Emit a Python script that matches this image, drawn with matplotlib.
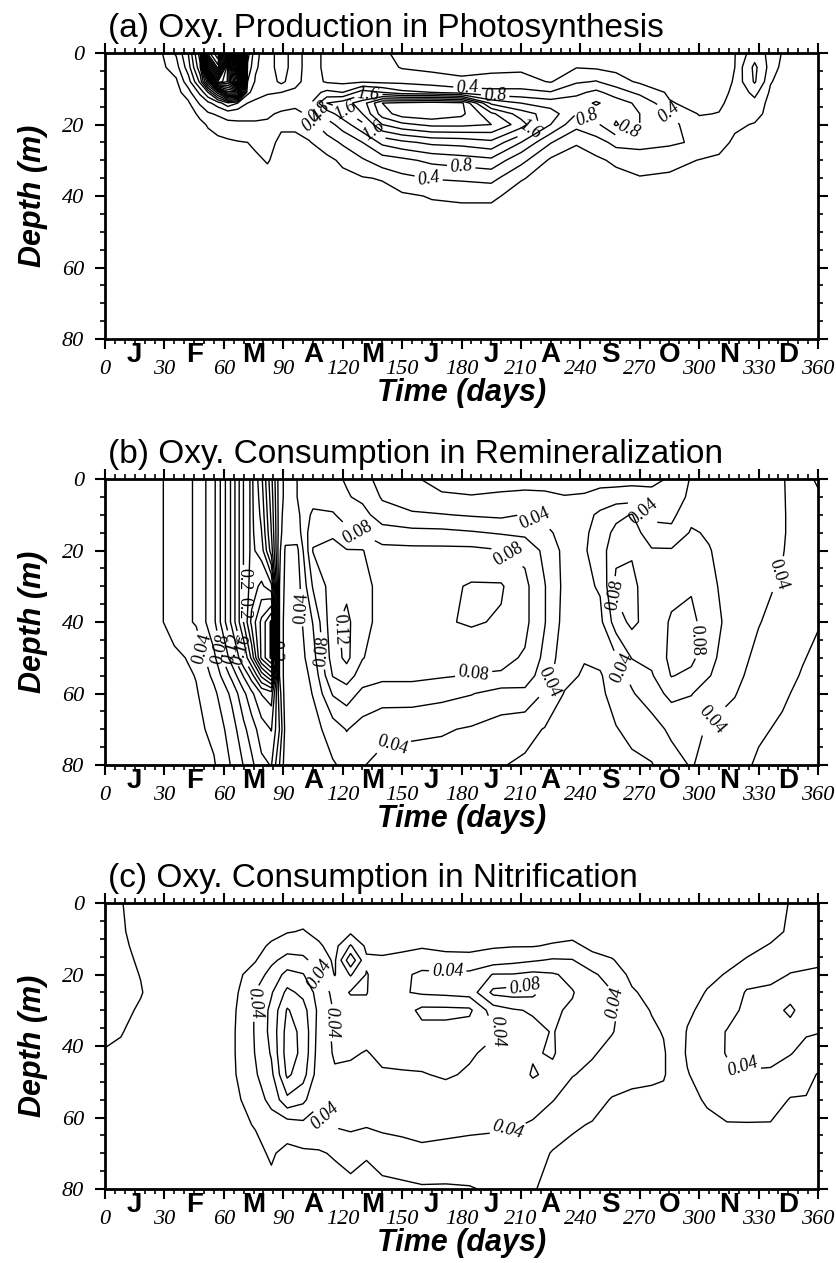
import numpy as np
import matplotlib
matplotlib.use('Agg')
import matplotlib.pyplot as plt
from matplotlib import font_manager
from matplotlib.ticker import MultipleLocator


def pick(*names):
    for n in names:
        try:
            font_manager.findfont(font_manager.FontProperties(family=n), fallback_to_default=False)
            return n
        except Exception:
            pass
    return 'DejaVu Sans'


narrow = pick('Liberation Sans Narrow', 'Liberation Sans')
serif = pick('Liberation Serif', 'DejaVu Serif')

plt.rcParams['font.family'] = serif
plt.rcParams['font.style'] = 'italic'

month_letters = ['J', 'F', 'M', 'A', 'M', 'J', 'J', 'A', 'S', 'O', 'N', 'D']
month_days = [15, 45, 75, 105, 135, 165, 195, 225, 255, 285, 315, 345]

# (a) oxygen production in photosynthesis, one column per day
photo_depths = [0, 4, 8, 11, 14, 17, 20, 25, 30, 35, 40, 45, 80]
photo_days = [0, 28, 36, 42, 48, 52, 57, 62, 67, 72, 76, 82, 89, 96, 103, 112, 120, 130, 140, 150,
              165, 180, 195, 210, 225, 238, 248, 258, 270, 285, 300, 310, 318, 328, 336, 342, 350, 360]
photo_cols = [
    [0, 0, 0, 0, 0, 0, 0, 0, 0, 0, 0, 0, 0],
    [0.05, 0.02, 0, 0, 0, 0, 0, 0, 0, 0, 0, 0, 0],
    [0.45, 0.25, 0.05, 0, 0, 0, 0, 0, 0, 0, 0, 0, 0],
    [1.2, 1.0, 0.6, 0.25, 0.05, 0, 0, 0, 0, 0, 0, 0, 0],
    [2.6, 2.3, 1.7, 0.9, 0.45, 0.15, 0.05, 0, 0, 0, 0, 0, 0],
    [11.0, 8.0, 3.5, 1.6, 0.7, 0.35, 0.12, 0.02, 0, 0, 0, 0, 0],
    [12.0, 11.0, 8.0, 3.0, 1.0, 0.45, 0.2, 0.04, 0, 0, 0, 0, 0],
    [7.0, 7.1, 7.15, 5.0, 1.5, 0.55, 0.3, 0.05, 0, 0, 0, 0, 0],
    [13.0, 12.0, 10.0, 5.0, 1.2, 0.5, 0.35, 0.08, 0, 0, 0, 0, 0],
    [2.2, 1.9, 1.6, 1.3, 0.8, 0.5, 0.35, 0.1, 0.02, 0, 0, 0, 0],
    [1.3, 1.25, 1.15, 1.0, 0.7, 0.5, 0.35, 0.15, 0.05, 0, 0, 0, 0],
    [1.0, 1.0, 0.95, 0.85, 0.6, 0.45, 0.35, 0.2, 0.12, 0.02, 0, 0, 0],
    [1.4, 1.4, 1.3, 0.8, 0.55, 0.35, 0.15, 0.03, 0, 0, 0, 0, 0],
    [1.0, 1.0, 0.95, 0.7, 0.5, 0.3, 0.15, 0.03, 0, 0, 0, 0, 0],
    [0.6, 0.6, 0.6, 0.6, 0.7, 0.45, 0.25, 0.08, 0, 0, 0, 0, 0],
    [0.3, 0.3, 0.35, 0.9, 1.6, 1.0, 0.6, 0.25, 0.03, 0, 0, 0, 0],
    [0.25, 0.25, 0.3, 0.8, 1.8, 1.4, 1.0, 0.45, 0.15, 0.03, 0, 0, 0],
    [0.25, 0.25, 0.35, 1.4, 2.2, 2.0, 1.5, 0.8, 0.35, 0.08, 0, 0, 0],
    [0.15, 0.2, 0.3, 1.2, 3.2, 3.0, 2.4, 1.3, 0.6, 0.12, 0, 0, 0],
    [0.02, 0.08, 0.3, 0.9, 3.3, 3.4, 2.7, 1.5, 0.7, 0.3, 0.05, 0, 0],
    [0, 0.05, 0.2, 0.8, 3.4, 3.5, 2.9, 1.7, 0.9, 0.42, 0.12, 0.02, 0],
    [0, 0.02, 0.15, 0.6, 3.3, 3.3, 2.9, 1.75, 1.0, 0.45, 0.15, 0.02, 0],
    [0, 0.03, 0.2, 0.5, 1.5, 2.5, 2.8, 1.9, 1.1, 0.5, 0.15, 0.02, 0],
    [0, 0.05, 0.2, 0.5, 1.2, 1.8, 2.2, 1.2, 0.5, 0.12, 0, 0, 0],
    [0, 0.02, 0.08, 0.42, 1.0, 1.4, 1.2, 0.42, 0.05, 0, 0, 0, 0],
    [0.02, 0.09, 0.35, 0.7, 1.0, 0.8, 0.5, 0.12, 0, 0, 0, 0, 0],
    [0, 0.06, 0.42, 0.9, 1.25, 1.0, 0.7, 0.25, 0.05, 0, 0, 0, 0],
    [0, 0.04, 0.2, 0.6, 1.0, 1.1, 1.25, 0.5, 0.15, 0.02, 0, 0, 0],
    [0, 0.02, 0.06, 0.3, 0.7, 0.8, 0.8, 0.5, 0.25, 0.08, 0, 0, 0],
    [0, 0, 0.03, 0.06, 0.12, 0.42, 0.5, 0.45, 0.2, 0.05, 0, 0, 0],
    [0, 0, 0, 0, 0.02, 0.08, 0.2, 0.35, 0.09, 0, 0, 0, 0],
    [0, 0, 0, 0.02, 0.05, 0.11, 0.2, 0.2, 0.05, 0, 0, 0, 0],
    [0.09, 0.1, 0.12, 0.15, 0.2, 0.2, 0.15, 0.05, 0, 0, 0, 0, 0],
    [0.6, 0.9, 0.85, 0.5, 0.3, 0.2, 0.08, 0, 0, 0, 0, 0, 0],
    [0.3, 0.25, 0.12, 0.05, 0, 0, 0, 0, 0, 0, 0, 0, 0],
    [0.08, 0.03, 0, 0, 0, 0, 0, 0, 0, 0, 0, 0, 0],
    [0, 0, 0, 0, 0, 0, 0, 0, 0, 0, 0, 0, 0],
    [0, 0, 0, 0, 0, 0, 0, 0, 0, 0, 0, 0, 0],
]

# (b) oxygen consumption in remineralization, values x 1000
remin_depths = [0, 5, 10, 15, 20, 30, 40, 50, 55, 60, 70, 80]
remin_days = [0, 25, 35, 46, 55, 64, 70, 74, 79, 84, 88, 91, 97, 105, 115, 122, 130, 140, 155, 170,
              185, 200, 212, 222, 232, 242, 250, 258, 266, 276, 286, 296, 305, 318, 330, 342, 352, 360]
remin_cols = [
    [10, 10, 10, 10, 10, 10, 10, 10, 10, 10, 10, 10],
    [12, 12, 12, 12, 12, 12, 12, 12, 12, 11, 11, 10],
    [30, 30, 30, 30, 30, 30, 30, 15, 10, 10, 10, 10],
    [42, 42, 42, 42, 42, 42, 42, 25, 21, 18, 15, 12],
    [75, 75, 75, 75, 75, 75, 75, 55, 45, 35, 25, 18],
    [145, 145, 145, 145, 145, 145, 145, 110, 85, 65, 50, 42],
    [201, 201, 201, 201, 201, 201, 201, 160, 122, 95, 75, 61],
    [225, 225, 225, 225, 225, 230, 245, 205, 150, 115, 90, 75],
    [185, 190, 195, 201, 210, 245, 285, 285, 205, 141, 110, 95],
    [125, 130, 135, 140, 150, 225, 325, 325, 245, 150, 121, 101],
    [70, 70, 70, 70, 65, 61, 61, 61, 61, 70, 81, 61],
    [55, 55, 50, 45, 38, 35, 30, 30, 30, 30, 35, 30],
    [60, 60, 55, 50, 35, 30, 30, 28, 27, 26, 25, 24],
    [61, 70, 85, 95, 101, 82, 61, 52, 45, 41, 32, 28],
    [65, 70, 82, 95, 110, 110, 115, 110, 101, 82, 50, 38],
    [58, 62, 72, 85, 101, 115, 125, 125, 110, 90, 61, 45],
    [50, 55, 68, 78, 101, 105, 105, 101, 90, 75, 52, 41],
    [30, 38, 48, 70, 85, 95, 95, 90, 85, 70, 45, 35],
    [22, 32, 42, 66, 85, 95, 95, 90, 85, 70, 44, 32],
    [15, 22, 41, 65, 85, 95, 98, 90, 82, 66, 42, 32],
    [12, 21, 38, 62, 85, 102, 102, 88, 79, 61, 38, 25],
    [15, 22, 36, 58, 81, 102, 98, 85, 78, 52, 32, 21],
    [12, 25, 41, 55, 75, 85, 85, 78, 70, 55, 26, 17],
    [10, 25, 35, 45, 55, 61, 61, 55, 50, 38, 19, 16],
    [10, 21, 30, 33, 35, 35, 33, 28, 25, 19, 15, 12],
    [12, 22, 32, 36, 38, 36, 32, 21, 18, 16, 14, 12],
    [15, 25, 45, 50, 50, 42, 35, 25, 18, 16, 14, 12],
    [12, 30, 55, 65, 75, 85, 70, 38, 32, 28, 19, 15],
    [14, 30, 61, 70, 78, 85, 85, 61, 45, 38, 25, 16],
    [16, 25, 35, 48, 62, 68, 70, 65, 58, 52, 30, 19],
    [22, 28, 35, 45, 62, 75, 82, 85, 81, 65, 45, 30],
    [42, 45, 55, 62, 68, 78, 85, 85, 75, 61, 45, 42],
    [45, 50, 55, 58, 61, 65, 70, 65, 61, 50, 38, 30],
    [50, 50, 50, 50, 50, 50, 50, 48, 45, 41, 32, 25],
    [48, 48, 48, 47, 46, 44, 41, 35, 32, 28, 22, 18],
    [42, 42, 42, 42, 41, 38, 32, 28, 25, 22, 18, 15],
    [25, 28, 30, 30, 30, 28, 25, 21, 19, 17, 14, 12],
    [18, 22, 26, 28, 28, 25, 21, 17, 15, 14, 12, 12],
]

# (c) oxygen consumption in nitrification, values x 1000
nitri_depths = [0, 8, 12, 16, 20, 25, 30, 36, 42, 48, 55, 62, 70, 80]
nitri_days = [0, 8, 18, 30, 60, 68, 76, 84, 92, 100, 108, 116, 124, 132, 140, 150, 160, 172, 184,
              196, 206, 216, 226, 236, 246, 256, 266, 276, 282, 288, 294, 304, 314, 324, 336, 346, 354, 360]
nitri_cols = [
    [28, 28, 28, 27, 26, 25, 24, 23, 19, 16, 14, 12, 10, 10],
    [21, 22, 23, 24, 25, 25, 24, 21, 17, 14, 12, 10, 10, 10],
    [12, 14, 16, 18, 19.5, 21, 18, 14, 12, 10, 10, 10, 10, 10],
    [10, 10, 10, 10, 10, 10, 10, 10, 10, 10, 10, 10, 10, 10],
    [10, 10, 10, 10, 10, 10, 10, 10, 10, 10, 10, 10, 10, 10],
    [10, 10, 12, 15, 18, 21, 23, 24, 24, 23, 19, 17, 14, 12],
    [10, 12, 16, 19, 28, 41, 42, 42, 41, 38, 32, 21, 16, 14],
    [10, 16, 22, 35, 48, 58, 65, 66, 62, 55, 45, 32, 22, 16],
    [10, 19, 30, 48, 66, 85, 102, 108, 110, 104, 75, 30, 15, 12],
    [10, 21, 30, 45, 61, 75, 88, 95, 95, 88, 65, 35, 17, 12],
    [10, 16, 22, 30, 41, 52, 55, 52, 50, 48, 42, 35, 18, 12],
    [10, 12, 14, 17, 19, 34, 38, 36, 38, 42, 46, 42, 22, 12],
    [10, 16, 42, 76, 42, 18, 32, 36, 38, 44, 48, 44, 28, 14],
    [10, 12, 16, 23, 19, 19, 26, 34, 41, 45, 48, 42, 22, 12],
    [10, 12, 16, 22, 28, 34, 32, 33, 36, 42, 48, 44, 30, 14],
    [10, 12, 17, 24, 36, 38, 30, 30, 33, 42, 50, 46, 32, 16],
    [10, 12, 18, 30, 44, 43, 15, 26, 34, 41, 50, 50, 34, 18],
    [10, 12, 16, 26, 44, 45, 15, 26, 32, 38, 48, 48, 32, 18],
    [10, 12, 16, 25, 45, 48, 16, 30, 38, 42, 50, 46, 30, 19],
    [10, 12, 18, 30, 61, 85, 50, 38, 44, 48, 50, 44, 30, 22],
    [10, 12, 19, 34, 61, 88, 58, 48, 46, 48, 50, 42, 28, 22],
    [10, 12, 19, 38, 65, 86, 62, 55, 58, 62, 48, 38, 26, 21],
    [10, 12, 22, 42, 62, 64, 62, 61, 62, 55, 41, 28, 19, 16],
    [10, 14, 24, 41, 55, 61, 58, 52, 48, 41, 30, 22, 16, 12],
    [10, 14, 16, 26, 44, 50, 50, 46, 42, 35, 26, 19, 14, 10],
    [10, 12, 14, 21, 30, 41, 44, 41, 34, 28, 19, 17, 12, 10],
    [10, 10, 11, 13, 16, 22, 28, 30, 30, 24, 17, 14, 10, 10],
    [10, 10, 10, 11, 12, 15, 19, 23, 25, 23, 16, 12, 10, 10],
    [10, 10, 10, 10, 11, 13, 16, 19, 22, 22, 14, 10, 10, 10],
    [10, 10, 10, 10, 10, 10, 10, 10, 10, 10, 10, 10, 10, 10],
    [10, 10, 10, 10, 11, 13, 17, 21, 22, 19, 15, 12, 10, 10],
    [10, 10, 11, 13, 16, 21, 25, 30, 32, 28, 22, 16, 11, 10],
    [10, 11, 13, 16, 21, 25, 32, 41, 41, 36, 28, 19, 12, 10],
    [10, 13, 16, 21, 30, 42, 45, 45, 43, 39, 30, 19, 13, 10],
    [12, 16, 21, 24, 32, 46, 52, 50, 44, 38, 28, 19, 13, 10],
    [21, 22, 25, 32, 41, 52, 64, 52, 41, 30, 19, 15, 12, 10],
    [24, 26, 30, 36, 42, 48, 50, 42, 34, 25, 19, 15, 12, 10],
    [26, 28, 32, 38, 42, 46, 44, 41, 30, 19, 16, 13, 11, 10],
]

photo_levels = [0.1] + [round(0.4 * k, 1) for k in range(1, 33)]
small_levels = [round(0.02 * k, 2) for k in range(1, 17)]

photo_lab = [(183, 10), (197, 11.5), (133, 14), (121, 16.5), (107, 17), (104, 19.5), (138, 20),
             (214, 21), (180, 31), (163, 36), (243, 19), (263, 20), (283, 18)]
remin_lab = [(46, 48), (54, 48), (60, 48), (66, 48), (70, 36), (77, 28), (86, 48),
             (99, 36), (118, 42), (112, 48), (127, 16), (215, 13), (207, 19), (186, 54),
             (222, 56), (144, 71), (268, 12), (262, 32), (264, 52), (298, 45), (342, 27), (313, 71)]
nitri_lab = [(76, 28), (102, 22), (124, 34), (113, 59), (173, 19), (198, 36), (212, 24),
             (257, 28), (203, 62), (323, 45)]


def panel(ax, days, depths, cols, scale, levels, lab_levels, lab_pos, title, italic):
    T, Z = np.meshgrid(days, depths)
    V = np.array(cols, dtype=float).T * scale
    labelled = [lv for lv in levels if any(abs(lv - l) < 1e-9 for l in lab_levels)]
    plain = [lv for lv in levels if lv not in labelled]
    ax.contour(T, Z, V, levels=plain, colors='k', linewidths=1.0)
    cs = ax.contour(T, Z, V, levels=labelled, colors='k', linewidths=1.0)
    texts = ax.clabel(cs, manual=lab_pos, fmt=lambda v: f'{v:g}', fontsize=13,
                      inline=True, inline_spacing=3)
    for t in texts:
        t.set_fontfamily(serif)
        t.set_fontstyle('italic' if italic else 'normal')

    ax.set_xlim(0, 360)
    ax.set_ylim(80, 0)
    ax.xaxis.set_major_locator(MultipleLocator(30))
    ax.xaxis.set_minor_locator(MultipleLocator(5))
    ax.yaxis.set_major_locator(MultipleLocator(20))
    ax.yaxis.set_minor_locator(MultipleLocator(5))
    ax.tick_params(which='both', direction='out', top=True, right=True)
    ax.tick_params(which='major', length=7, width=1.5, labelsize=16, pad=8)
    ax.tick_params(which='minor', length=3.5, width=1.2)
    for s in ax.spines.values():
        s.set_linewidth(2.0)

    for d, m in zip(month_days, month_letters):
        ax.annotate(m, xy=(d, 0), xycoords=('data', 'axes fraction'), xytext=(0, -2),
                    textcoords='offset points', ha='center', va='top', fontfamily=narrow,
                    fontweight='bold', fontstyle='normal', fontsize=20)

    ax.text(0.004, 1.056, title, transform=ax.transAxes, ha='left', va='baseline',
            fontfamily=narrow, fontstyle='normal', fontsize=24)
    ax.set_ylabel('Depth (m)', fontfamily=narrow, fontweight='bold', fontstyle='italic', fontsize=22)
    ax.yaxis.set_label_coords(-0.08, 0.5)
    ax.set_xlabel('Time (days)', fontfamily=narrow, fontweight='bold', fontstyle='italic', fontsize=22)
    ax.xaxis.set_label_coords(0.5, -0.138)


fig = plt.figure(figsize=(8.36, 12.63), dpi=100)
ax_a = fig.add_axes([0.1256, 0.7316, 0.8529, 0.2264])
ax_b = fig.add_axes([0.1256, 0.3943, 0.8529, 0.2264])
ax_c = fig.add_axes([0.1256, 0.0586, 0.8529, 0.2264])

panel(ax_a, photo_days, photo_depths, photo_cols, 1.0, photo_levels, [0.4, 0.8, 1.2, 1.6],
      photo_lab, '(a) Oxy. Production in Photosynthesis', True)
panel(ax_b, remin_days, remin_depths, remin_cols, 0.001, small_levels, [0.04, 0.08, 0.12, 0.16, 0.2],
      remin_lab, '(b) Oxy. Consumption in Remineralization', False)
panel(ax_c, nitri_days, nitri_depths, nitri_cols, 0.001, small_levels[:5], [0.04, 0.08],
      nitri_lab, '(c) Oxy. Consumption in Nitrification', True)

fig.savefig('out.png', dpi=100)
